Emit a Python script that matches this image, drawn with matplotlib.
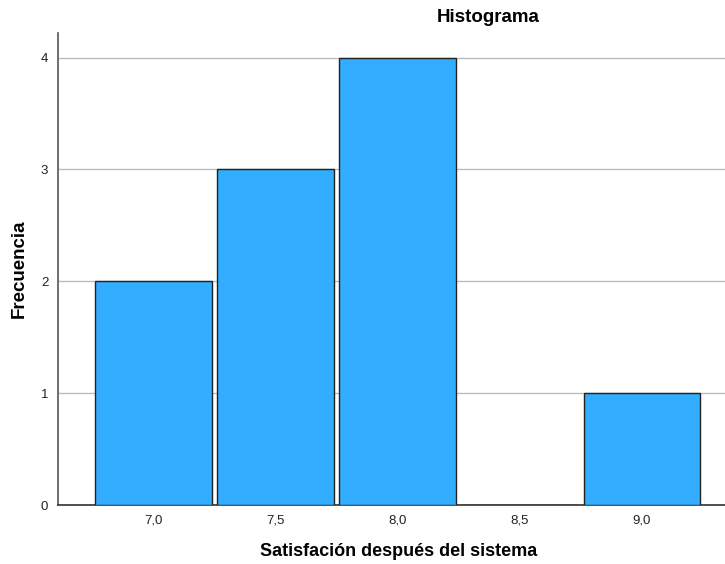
import matplotlib
matplotlib.use("Agg")
import matplotlib.pyplot as plt

plt.rcParams['font.family'] = ['Liberation Sans', 'DejaVu Sans']

# Histogram bins (centres) and counts
bin_centres = [7.0, 7.5, 8.0, 8.5, 9.0]
frequencies = [2, 3, 4, 0, 1]
x_tick_labels = ["7,0", "7,5", "8,0", "8,5", "9,0"]
y_ticks = [0, 1, 2, 3, 4]

W, H = 725, 564
fig = plt.figure(figsize=(W / 100, H / 100), dpi=100)
ax = fig.add_axes([0.08, 0.1046, 0.92, 0.837])

ax.set_axisbelow(True)
ax.yaxis.grid(True, color="#bdbdbd", linewidth=1.0)

ax.bar(bin_centres, frequencies, width=0.478, color="#33adff",
       edgecolor="#222222", linewidth=1.0, zorder=3)

ax.set_xlim(6.609, 9.34)
ax.set_ylim(0, 4.22)
ax.set_xticks(bin_centres)
ax.set_xticklabels(x_tick_labels)
ax.set_yticks(y_ticks)
ax.tick_params(axis="both", length=0, labelsize=9.5, colors="#222222")
ax.tick_params(axis="x", pad=7)
ax.tick_params(axis="y", pad=7)

for side in ("top", "right"):
    ax.spines[side].set_visible(False)
ax.spines["left"].set_color("#555555")
ax.spines["bottom"].set_color("#333333")
ax.spines["left"].set_linewidth(1.2)
ax.spines["bottom"].set_linewidth(1.2)

fig.text(19 / W, 1 - 269 / H, "Frecuencia", fontsize=13.5,
         fontweight="bold", rotation=90, ha="center", va="center")
fig.text(399 / W, 1 - 551 / H, "Satisfación después del sistema",
         fontsize=13, fontweight="bold", ha="center", va="center")
fig.text(488 / W, 1 - 18 / H, "Histograma", fontsize=13.5,
         fontweight="bold", ha="center", va="center")

fig.savefig("out.png", dpi=100)
